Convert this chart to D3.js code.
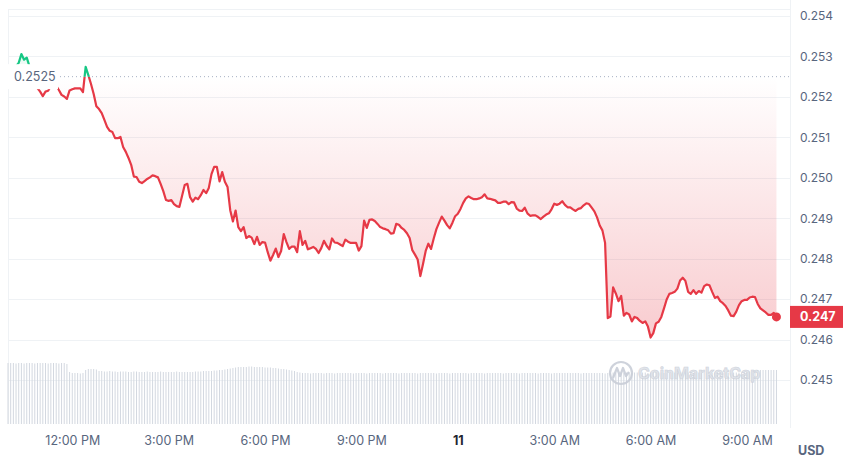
<!DOCTYPE html>
<html><head><meta charset="utf-8">
<script src="https://cdn.jsdelivr.net/npm/d3@7"></script>
<style>body{margin:0;background:#fff}svg{display:block;font-family:Inter,"Noto Sans",sans-serif}</style>
</head><body><svg id="c" width="850" height="466"></svg>
<script>
const startTime = "2024-12-10T10:00";
const endTickTime = "2024-12-11T09:00";
const stepMinutes = 5;
const prices = [
0.25262,0.25267,0.25271,0.25276,0.25284,0.25306,0.25292,0.25297,0.25276,0.25257,
0.25237,0.25222,0.25213,0.25202,0.25213,0.25215,0.25227,0.25232,0.25227,0.25217,
0.25205,0.25201,0.25195,0.25216,0.25219,0.25221,0.25221,0.25221,0.25212,0.25274,
0.25254,0.25232,0.25207,0.25177,0.25170,0.25160,0.25143,0.25126,0.25116,0.25113,
0.25098,0.25098,0.25101,0.25076,0.25064,0.25049,0.25032,0.25003,0.25002,0.24990,
0.24987,0.24992,0.24997,0.25001,0.25006,0.25004,0.25001,0.24985,0.24967,0.24945,
0.24943,0.24945,0.24935,0.24930,0.24928,0.24955,0.24982,0.24985,0.24952,0.24941,
0.24951,0.24947,0.24957,0.24970,0.24962,0.24975,0.25009,0.25027,0.25027,0.24991,
0.25014,0.24990,0.24977,0.24920,0.24892,0.24919,0.24878,0.24868,0.24878,0.24851,
0.24856,0.24852,0.24836,0.24854,0.24834,0.24841,0.24840,0.24816,0.24795,0.24809,
0.24825,0.24804,0.24819,0.24861,0.24841,0.24824,0.24830,0.24830,0.24816,0.24868,
0.24834,0.24844,0.24823,0.24826,0.24829,0.24824,0.24814,0.24826,0.24844,0.24832,
0.24823,0.24850,0.24840,0.24839,0.24835,0.24831,0.24847,0.24842,0.24839,0.24839,
0.24839,0.24820,0.24831,0.24894,0.24876,0.24896,0.24897,0.24893,0.24886,0.24878,
0.24875,0.24873,0.24870,0.24862,0.24863,0.24886,0.24884,0.24876,0.24871,0.24863,
0.24851,0.24821,0.24810,0.24798,0.24757,0.24787,0.24819,0.24837,0.24824,0.24850,
0.24873,0.24889,0.24904,0.24894,0.24883,0.24875,0.24889,0.24905,0.24911,0.24923,
0.24938,0.24949,0.24954,0.24950,0.24947,0.24947,0.24949,0.24952,0.24959,0.24949,
0.24948,0.24946,0.24944,0.24938,0.24938,0.24941,0.24941,0.24935,0.24940,0.24939,
0.24924,0.24919,0.24918,0.24926,0.24912,0.24906,0.24907,0.24907,0.24903,0.24898,
0.24904,0.24909,0.24912,0.24922,0.24936,0.24933,0.24936,0.24942,0.24933,0.24927,
0.24927,0.24922,0.24918,0.24923,0.24925,0.24932,0.24937,0.24935,0.24926,0.24917,
0.24902,0.24882,0.24870,0.24839,0.24653,0.24657,0.24729,0.24714,0.24695,0.24708,
0.24659,0.24666,0.24662,0.24645,0.24656,0.24653,0.24646,0.24641,0.24645,0.24632,
0.24605,0.24616,0.24640,0.24644,0.24656,0.24677,0.24699,0.24713,0.24715,0.24718,
0.24726,0.24746,0.24753,0.24745,0.24718,0.24713,0.24722,0.24713,0.24720,0.24716,
0.24732,0.24736,0.24734,0.24718,0.24703,0.24706,0.24695,0.24690,0.24683,0.24672,
0.24659,0.24658,0.24669,0.24685,0.24695,0.24698,0.24698,0.24704,0.24706,0.24705,
0.24688,0.24677,0.24672,0.24667,0.24661,0.24661,0.24666,0.24656
];
const volumes = [
61,61,61,60.5,61,61,60.5,61,61,61,60.5,61,61,61,61,60.5,61,61,61,60.5,61,61,60,
52,51,51,51,50.5,51,
54,55,55,55,54.5,
53,53,52.5,52.5,53,52.5,52.5,52,52.5,52.5,
52.5,52,52,52.5,52.5,52,52,52,52.5,52,
52,52,52,52.5,52,52,52,52,52,52.5,
52,52,52,52,52,52,52.5,52.5,52.5,53,
53,53,53,53.5,53.5,54,54,54.5,55,55.5,
56,
56.5,57,57,57,57,57.5,57.5,57,57,57,57,56.5,56.5,56.5,56,56,55.5,55,55,54.5,54,53.5,
53,52,51.5,
51,51,51,50.5,51,51,51,51,50.5,51,
51,51,50.5,51,51,51,51,51,51,50.5,
51,51,51,51,50.5,51,51,51,51,51,
50.5,51,51,51,51,51,50.5,51,51,51,
51,51,51,50.5,51,51,51,51,51,51,
50.5,51,51,51,51,50.5,51,51,51,51,
51,51,50.5,51,51,51,51,51,50.5,51,
51,51,51,51,51,50.5,51,51,51,51,
51,50.5,51,51,51,51,51,51,50.5,51,
51,51,51,50.5,51,51,51,51,51,51,
51,51,51,51,50.5,51,51,51,51,51,
51,51,51,50.5,51,51,
51.5,51.5,51,51.5,51.5,51.5,51.5,51,51.5,51.5,
51.5,51.5,51.5,51,51.5,51.5,51.5,51.5,51.5,51,
51.5,51.5,51.5,51.5,51,51.5,51.5,51.5,51.5,51.5,
51,51.5,51.5,51.5,51.5,51.5,51.5,51,51.5,51.5,
51.5,51.5,51.5,51.5,51,51.5,51.5,51.5,51.5,51.5,
52,52.5,53,53.5,54,54,54,54,54,54,54,54
];
const baselinePrice = 0.2525;
const baselineLabel = "0.2525";
const yTicks = [0.245,0.246,0.247,0.248,0.249,0.250,0.251,0.252,0.253,0.254];
const xTickTimes = ["2024-12-10T12:00","2024-12-10T15:00","2024-12-10T18:00","2024-12-10T21:00","2024-12-11T00:00","2024-12-11T03:00","2024-12-11T06:00","2024-12-11T09:00"];
const xTickLabels = ["12:00 PM","3:00 PM","6:00 PM","9:00 PM","11","3:00 AM","6:00 AM","9:00 AM"];
const currentLabel = "0.247";
const currencyLabel = "USD";
const watermark = "CoinMarketCap";

const RED = "#e63946", GREEN = "#16c784", GREY = "#58667e", GRID = "#eff2f5";
const parse = d3.timeParse("%Y-%m-%dT%H:%M");
const t0 = parse(startTime);
const data = prices.map((p, i) => ({t: new Date(t0.getTime() + i * stepMinutes * 60000), p, v: volumes[i]}));

const svg = d3.select("#c");
const x = d3.scaleTime().domain([t0, parse(endTickTime)]).range([8, 747]);
const y = d3.scaleLinear().domain([0.245, 0.254]).range([380, 16]);
const yv = d3.scaleLinear().domain([0, 62]).range([424, 362]);
const left = 8, right = 790;
const by = y(baselinePrice);

// frame + grid
svg.append("g").selectAll("line").data(yTicks).join("line")
  .attr("x1", left).attr("x2", right).attr("y1", d => Math.round(y(d)) + 0.5).attr("y2", d => Math.round(y(d)) + 0.5)
  .attr("stroke", GRID).attr("stroke-width", 1);
svg.append("line").attr("x1", left).attr("x2", right).attr("y1", 9.5).attr("y2", 9.5).attr("stroke", GRID);
svg.append("line").attr("x1", right + 0.5).attr("x2", right + 0.5).attr("y1", 0).attr("y2", 428).attr("stroke", GRID);
svg.append("line").attr("x1", left + 0.5).attr("x2", left + 0.5).attr("y1", 9).attr("y2", 424).attr("stroke", GRID);

// volume
svg.append("g").selectAll("rect").data(data).join("rect")
  .attr("x", d => x(d.t) - 0.5).attr("width", 1)
  .attr("y", d => yv(d.v)).attr("height", d => yv(0) - yv(d.v))
  .attr("fill", "#d3d8e0");

// watermark
const wm = svg.append("g").attr("opacity", 0.9);
wm.append("circle").attr("cx", 621).attr("cy", 373).attr("r", 11).attr("fill", "none").attr("stroke", "#c9ced8").attr("stroke-width", 2.2);
wm.append("path").attr("d", "M613,378 L617,368 L620,376 L623,368 L626,376 L629,372")
  .attr("fill", "none").attr("stroke", "#c9ced8").attr("stroke-width", 2.2).attr("stroke-linejoin", "round");
wm.append("text").attr("x", 638).attr("y", 379).attr("font-size", 16).attr("font-weight", 700)
  .attr("fill", "#dfe3e9").attr("stroke", "#c9ced8").attr("stroke-width", 0.6).text(watermark);

// gradients / clips
const defs = svg.append("defs");
const gr = defs.append("linearGradient").attr("id", "gr").attr("gradientUnits", "userSpaceOnUse")
  .attr("x1", 0).attr("x2", 0).attr("y1", by).attr("y2", y(0.246));
gr.append("stop").attr("offset", 0).attr("stop-color", RED).attr("stop-opacity", 0.0);
gr.append("stop").attr("offset", 1).attr("stop-color", RED).attr("stop-opacity", 0.26);
const gg = defs.append("linearGradient").attr("id", "gg").attr("gradientUnits", "userSpaceOnUse")
  .attr("x1", 0).attr("x2", 0).attr("y1", by).attr("y2", 40);
gg.append("stop").attr("offset", 0).attr("stop-color", GREEN).attr("stop-opacity", 0.0);
gg.append("stop").attr("offset", 1).attr("stop-color", GREEN).attr("stop-opacity", 0.2);
defs.append("clipPath").attr("id", "below").append("rect").attr("x", 0).attr("y", by).attr("width", 850).attr("height", 466);
defs.append("clipPath").attr("id", "above").append("rect").attr("x", 0).attr("y", 0).attr("width", 850).attr("height", by);

const area = d3.area().x(d => x(d.t)).y0(by).y1(d => y(d.p));
const line = d3.line().x(d => x(d.t)).y(d => y(d.p));

svg.append("path").datum(data).attr("d", area).attr("fill", "url(#gr)").attr("clip-path", "url(#below)");
svg.append("path").datum(data).attr("d", area).attr("fill", "url(#gg)").attr("clip-path", "url(#above)");

// baseline dotted
svg.append("line").attr("x1", left).attr("x2", right).attr("y1", by).attr("y2", by)
  .attr("stroke", "#a6b0c3").attr("stroke-width", 1).attr("stroke-dasharray", "1,3");

svg.append("path").datum(data).attr("d", line).attr("fill", "none").attr("stroke", RED).attr("stroke-width", 2.2)
  .attr("stroke-linejoin", "round").attr("clip-path", "url(#below)");
svg.append("path").datum(data).attr("d", line).attr("fill", "none").attr("stroke", GREEN).attr("stroke-width", 2.2)
  .attr("stroke-linejoin", "round").attr("clip-path", "url(#above)");

// baseline label box
svg.append("rect").attr("x", 2).attr("y", by - 12.5).attr("width", 56).attr("height", 25).attr("fill", "#fff");
svg.append("text").attr("x", 14).attr("y", by + 1).attr("dominant-baseline", "middle")
  .attr("font-size", 12.5).attr("fill", GREY).text(baselineLabel);

// end point
const last = data[data.length - 1];
svg.append("circle").attr("cx", x(last.t)).attr("cy", y(last.p)).attr("r", 4.5).attr("fill", RED);

// y axis
const yAxis = d3.axisRight(y).tickValues(yTicks).tickFormat(d3.format(".3f")).tickSize(0).tickPadding(0);
const ga = svg.append("g").attr("transform", `translate(800,0)`).call(yAxis);
ga.select(".domain").remove();
ga.selectAll("text").attr("font-size", 12).attr("fill", GREY).attr("font-family", "Inter, sans-serif");

// current price label
const cy = y(last.p);
svg.append("rect").attr("x", 790).attr("y", cy - 11).attr("width", 53).attr("height", 22).attr("fill", RED);
svg.append("text").attr("x", 800).attr("y", cy + 0.5).attr("dominant-baseline", "middle").attr("font-size", 12.5)
  .attr("font-weight", 700).attr("fill", "#fff").text(currentLabel);

// x axis
const xAxis = d3.axisBottom(x).tickValues(xTickTimes.map(parse)).tickFormat((d, i) => xTickLabels[i]).tickSize(0).tickPadding(0);
const gx = svg.append("g").attr("transform", "translate(0,436)").call(xAxis);
gx.select(".domain").remove();
gx.selectAll("text").attr("font-size", 12.5).attr("font-family", "Inter, sans-serif")
  .attr("font-weight", (d, i) => xTickLabels[i] === "11" ? 700 : 400)
  .attr("fill", (d, i) => xTickLabels[i] === "11" ? "#222531" : GREY);

svg.append("text").attr("x", 798).attr("y", 455).attr("font-size", 12.5).attr("font-weight", 700).attr("fill", GREY).text(currencyLabel);
</script></body></html>
